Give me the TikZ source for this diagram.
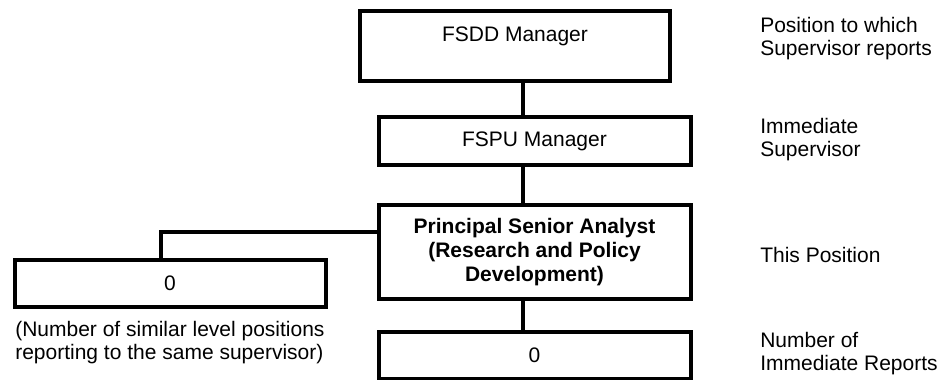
\documentclass[tikz,border=0pt]{standalone}
\usepackage{fontspec}
\setmainfont{Liberation Sans}
\usetikzlibrary{positioning}
\tikzset{
  orgbox/.style={draw, line width=3pt, inner sep=0pt, align=center,
    minimum width=312*0.75pt, minimum height=#1*0.75pt},
  orgbox/.default=48,
  sidenote/.style={anchor=north west, inner sep=0pt, align=left},
  link/.style={line width=3pt},
}

\begin{document}
\begin{tikzpicture}[x=0.75pt, y=-0.75pt,
    font=\fontsize{15.75pt}{17.5pt}\selectfont]

  \useasboundingbox (0,0) rectangle (944,379); %% page size

  %% chain of positions
  \node[orgbox=70, minimum width=310*0.75pt] (fsdd) at (515,46)
    {FSDD Manager\\\mbox{}};
  \node[orgbox] (fspu) at (534.5,141) {FSPU Manager};
  \node[orgbox=94, font=\fontsize{15.75pt}{18pt}\selectfont\bfseries]
    (psa) at (534.5,252)
    {Principal Senior Analyst\\(Research and Policy\\Development)};
  \node[orgbox=47] (reports) at (534.5,355.5) {0};
  \node[orgbox=47, minimum width=311*0.75pt] (peers) at (170,283.5) {0};

  \coordinate (spine) at (523,0);
  \coordinate (tee) at (160.5,232);

  \draw[link] (fsdd.south -| spine) -- (fspu.north -| spine);
  \draw[link] (fspu.south -| spine) -- (psa.north -| spine);
  \draw[link] (psa.south -| spine) -- (reports.north -| spine);
  \draw[link] (psa.west |- tee) -- (tee) -- (peers.north -| tee);

  %% captions
  \node[sidenote] (peersnote) at (15,321)
    {(Number of similar level positions\\reporting to the same supervisor)};
  \node[sidenote] (fsddnote) at (760,17) {Position to which\\Supervisor reports};
  \node[sidenote] (fspunote) at (760,118) {Immediate\\Supervisor};
  \node[sidenote] (psanote) at (760,247) {This Position};
  \node[sidenote] (reportsnote) at (760,332) {Number of\\Immediate Reports};

\end{tikzpicture}
\end{document}
